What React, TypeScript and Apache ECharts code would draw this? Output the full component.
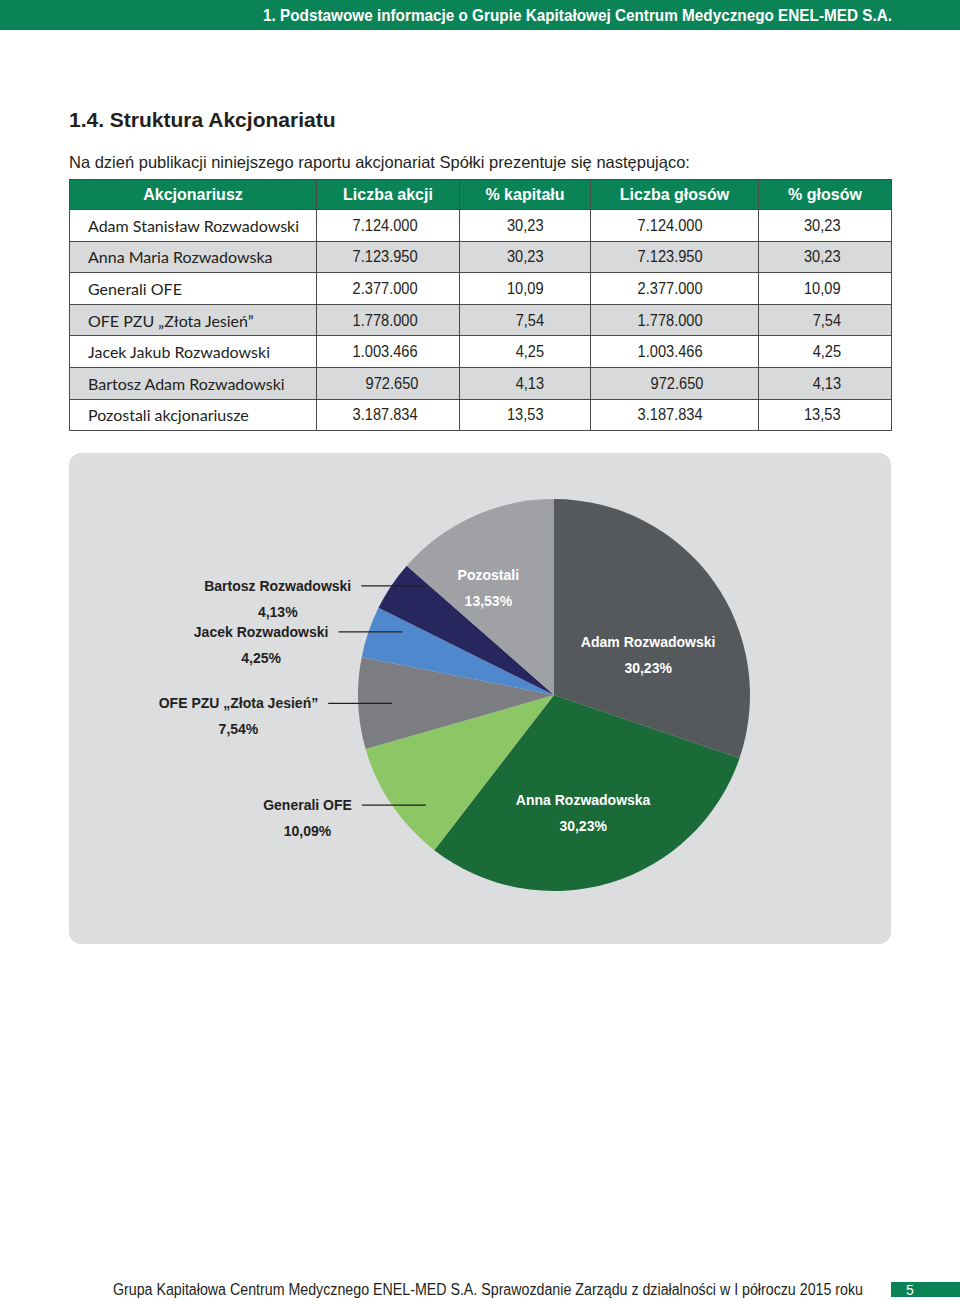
import React, { useEffect, useLayoutEffect, useRef, useState } from "react";
import * as echarts from "echarts";

const headerText = "1. Podstawowe informacje o Grupie Kapitałowej Centrum Medycznego ENEL-MED S.A.";
const titleText = "1.4. Struktura Akcjonariatu";
const introText = "Na dzień publikacji niniejszego raportu akcjonariat Spółki prezentuje się następująco:";
const footerText = "Grupa Kapitałowa Centrum Medycznego ENEL-MED S.A. Sprawozdanie Zarządu z działalności w I półroczu 2015 roku";
const pageNumber = "5";

const columnHeaders = ["Akcjonariusz", "Liczba akcji", "% kapitału", "Liczba głosów", "% głosów"];
const shareholders = [
  "Adam Stanisław Rozwadowski",
  "Anna Maria Rozwadowska",
  "Generali OFE",
  "OFE PZU „Złota Jesień”",
  "Jacek Jakub Rozwadowski",
  "Bartosz Adam Rozwadowski",
  "Pozostali akcjonariusze",
];
const shareCounts = [7124000, 7123950, 2377000, 1778000, 1003466, 972650, 3187834];
const capitalPct = [30.23, 30.23, 10.09, 7.54, 4.25, 4.13, 13.53];
const voteCounts = [7124000, 7123950, 2377000, 1778000, 1003466, 972650, 3187834];
const votePct = [30.23, 30.23, 10.09, 7.54, 4.25, 4.13, 13.53];

const pieNames = [
  "Adam Rozwadowski",
  "Anna Rozwadowska",
  "Generali OFE",
  "OFE PZU „Złota Jesień”",
  "Jacek Rozwadowski",
  "Bartosz Rozwadowski",
  "Pozostali",
];
const pieValues = [30.23, 30.23, 10.09, 7.54, 4.25, 4.13, 13.53];

// styles
const pieColors = ["#56595c", "#1a6b37", "#8cc665", "#7b7d81", "#4f88cc", "#27265e", "#9fa1a4"];
const pieInside = [true, true, false, false, false, false, true];
const insideLabelShift = [
  [12, 19],
  [0, 21],
  [0, 0],
  [0, 0],
  [0, 0],
  [0, 0],
  [-24, -15],
];
const LEADER_LEN = 64;
const LEADER_GAP = 10;
const LEADER_INTO_SLICE = 34;

const GREEN = "#0a8457";
const DARK = "#231f20";
const SANS = "'Liberation Sans', Arial, Helvetica, sans-serif";
const HUMAN = "Lato, 'Open Sans', sans-serif";

const fmtInt = (n: number) => n.toString().replace(/\B(?=(\d{3})+(?!\d))/g, ".");
const fmtPct = (v: number) => v.toFixed(2).replace(".", ",");

const colWidths = [247, 143, 131, 168, 133];
const colPadRight = [0, 41, 46, 55, 50];

function FitText({ width, style, children }: { width: number; style?: React.CSSProperties; children: React.ReactNode }) {
  const ref = useRef<HTMLSpanElement>(null);
  const [scale, setScale] = useState(1);
  useLayoutEffect(() => {
    if (ref.current) {
      const w = ref.current.offsetWidth;
      if (w > 0) setScale(width / w);
    }
  }, [width]);
  return (
    <span
      ref={ref}
      style={{ display: "inline-block", whiteSpace: "nowrap", transform: `scaleX(${scale})`, transformOrigin: "right center", ...style }}
    >
      {children}
    </span>
  );
}

function PieChart() {
  const ref = useRef<HTMLDivElement>(null);
  useEffect(() => {
    if (!ref.current) return;
    const chart = echarts.init(ref.current, null, { renderer: "svg" });
    const insideRich = {
      n: { fontSize: 14, fontWeight: "bold", fontFamily: SANS, color: "#ffffff", lineHeight: 26, align: "center" },
      p: { fontSize: 14, fontWeight: "bold", fontFamily: SANS, color: "#ffffff", lineHeight: 26, align: "center" },
    };
    const outsideRich = {
      n: { fontSize: 14, fontWeight: "bold", fontFamily: SANS, color: DARK, lineHeight: 26, align: "center" },
      p: { fontSize: 14, fontWeight: "bold", fontFamily: SANS, color: DARK, lineHeight: 26, align: "center" },
      g: { width: LEADER_GAP, height: 1, align: "center" },
      l: { width: LEADER_LEN, height: 1.3, backgroundColor: DARK, align: "center" },
      b: { width: LEADER_GAP + LEADER_LEN, height: 1, align: "center" },
    };
    const data = pieNames.map((name, i) => {
      const inside = pieInside[i];
      return {
        name,
        value: pieValues[i],
        itemStyle: { color: pieColors[i] },
        label: inside
          ? {
              position: "inside",
              padding: 0,
              formatter: (p: any) => `{n|${p.name}}\n{p|${fmtPct(p.value)}%}`,
              rich: insideRich,
            }
          : {
              position: "outside",
              padding: [26, 0, 0, 0],
              distanceToLabelLine: -LEADER_INTO_SLICE,
              formatter: (p: any) => `{n|${p.name}}{g|}{l|}\n{p|${fmtPct(p.value)}%}{b|}`,
              rich: outsideRich,
            },
      };
    });
    chart.setOption({
      animation: false,
      series: [
        {
          type: "pie",
          center: [485, 242],
          radius: 196,
          startAngle: 90,
          clockwise: true,
          avoidLabelOverlap: false,
          silent: true,
          label: { show: true },
          labelLine: { show: false, length: 0, length2: 0 },
          labelLayout: (params: any) => {
            const i = params.dataIndex;
            if (pieInside[i]) {
              return { dx: insideLabelShift[i][0], dy: insideLabelShift[i][1] };
            }
            return {};
          },
          data,
        },
      ],
    });
    return () => chart.dispose();
  }, []);
  return <div ref={ref} style={{ width: 822, height: 491 }} />;
}

export default function App() {
  return (
    <div style={{ position: "absolute", left: 0, top: 0, width: 960, height: 1301, background: "#ffffff", fontFamily: SANS, color: DARK, overflow: "hidden" }}>
      <div style={{ position: "absolute", left: 0, top: 0, width: 960, height: 30, background: GREEN }}>
        <div style={{ position: "absolute", right: 68, top: 0, height: 30, lineHeight: "31px", color: "#ffffff", fontWeight: "bold", fontSize: 17, whiteSpace: "nowrap" }}>
          <FitText width={629}>{headerText}</FitText>
        </div>
      </div>
      <div style={{ position: "absolute", left: 69, top: 106, fontSize: 21, fontWeight: "bold", whiteSpace: "nowrap", lineHeight: "28px" }}>{titleText}</div>
      <div style={{ position: "absolute", left: 69, top: 151, fontSize: 16.5, whiteSpace: "nowrap", lineHeight: "22px" }}>{introText}</div>

      <table style={{ position: "absolute", left: 69, top: 179, width: 823, borderCollapse: "collapse", tableLayout: "fixed" }}>
        <colgroup>
          {colWidths.map((w, i) => (
            <col key={i} style={{ width: w }} />
          ))}
        </colgroup>
        <thead>
          <tr style={{ height: 30, background: GREEN }}>
            {columnHeaders.map((h, i) => (
              <th key={i} style={{ color: "#ffffff", fontFamily: SANS, fontWeight: "bold", fontSize: 16, textAlign: "center", border: "1px solid #4a4a4a", padding: 0, paddingTop: 1 }}>
                {h}
              </th>
            ))}
          </tr>
        </thead>
        <tbody>
          {shareholders.map((name, r) => {
            const cells = [name, fmtInt(shareCounts[r]), fmtPct(capitalPct[r]), fmtInt(voteCounts[r]), fmtPct(votePct[r])];
            return (
              <tr key={r} style={{ height: 31.6, background: r % 2 === 1 ? "#d8d9da" : "#ffffff" }}>
                {cells.map((c, i) => (
                  <td
                    key={i}
                    style={{
                      border: "1px solid #4a4a4a",
                      padding: 0,
                      paddingTop: i === 0 ? 1 : 1,
                      paddingLeft: i === 0 ? 18 : 0,
                      paddingRight: colPadRight[i],
                      textAlign: i === 0 ? "left" : "right",
                      fontFamily: i === 0 ? HUMAN : SANS,
                      fontSize: i === 0 ? 16 : 17,
                      color: DARK,
                      whiteSpace: "nowrap",
                      lineHeight: "20px",
                    }}
                  >
                    {i === 0 ? (
                      c
                    ) : (
                      <span style={{ display: "inline-block", transform: "scaleX(0.86)", transformOrigin: "right center" }}>{c}</span>
                    )}
                  </td>
                ))}
              </tr>
            );
          })}
        </tbody>
      </table>

      <div style={{ position: "absolute", left: 69, top: 453, width: 822, height: 491, background: "#dcddde", borderRadius: 12, overflow: "hidden" }}>
        <PieChart />
      </div>

      <div style={{ position: "absolute", right: 97, top: 1279, lineHeight: "22px", fontSize: 16, whiteSpace: "nowrap" }}>
        <FitText width={750}>{footerText}</FitText>
      </div>
      <div style={{ position: "absolute", left: 891, top: 1282, width: 69, height: 15, background: GREEN, color: "#ffffff", fontSize: 14, lineHeight: "16px" }}>
        <span style={{ marginLeft: 15 }}>{pageNumber}</span>
      </div>
    </div>
  );
}
